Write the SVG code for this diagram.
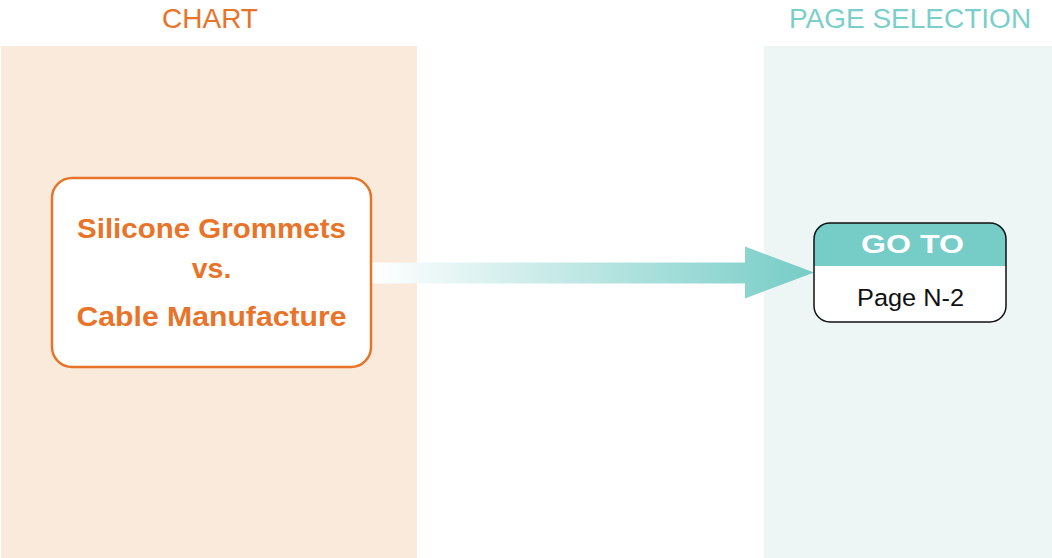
<svg xmlns="http://www.w3.org/2000/svg" width="1052" height="558" viewBox="0 0 1052 558">
<style>
.title{font-family:"Liberation Sans",Arial,sans-serif;font-size:28px;text-anchor:middle}
.node-text{font-family:"Liberation Sans",Arial,sans-serif;font-weight:bold;font-size:28.5px;fill:#E8742A;text-anchor:middle}
</style>
<defs>
<linearGradient id="flow" gradientUnits="userSpaceOnUse" x1="372" y1="0" x2="814" y2="0">
<stop offset="0" stop-color="#FFFFFF"/>
<stop offset="1" stop-color="#76CCC6"/>
</linearGradient>
</defs>
<rect width="1052" height="558" fill="#FFFFFF"/>
<g id="lane-chart">
<rect x="1" y="46" width="416" height="512" fill="#FAEADC"/>
<text class="title" x="210" y="27.5" fill="#E8742A">CHART</text>
</g>
<g id="lane-page">
<rect x="764" y="46" width="288" height="512" fill="#EDF6F5"/>
<text class="title" x="910" y="27.5" fill="#7ACFCA">PAGE SELECTION</text>
</g>
<g id="connectors">
<path d="M372 262.5 H745 V246.5 L814 272.5 L745 298.5 V283.5 H372 Z" fill="url(#flow)"/>
</g>
<g id="node-chart">
<rect x="52" y="178" width="319" height="189" rx="20" fill="#FFFFFF" stroke="#E8742A" stroke-width="2.5"/>
<text class="node-text" x="211.5" y="238" textLength="269" lengthAdjust="spacingAndGlyphs">Silicone Grommets</text>
<text class="node-text" x="211.5" y="278">vs.</text>
<text class="node-text" x="211.5" y="326" textLength="270" lengthAdjust="spacingAndGlyphs">Cable Manufacture</text>
</g>
<g id="node-goto">
<rect x="814" y="223" width="192" height="99" rx="16" fill="#FFFFFF"/>
<path d="M814 266 V239 Q814 223 830 223 H990 Q1006 223 1006 239 V266 Z" fill="#76CCC6"/>
<rect x="814" y="223" width="192" height="99" rx="16" fill="none" stroke="#111111" stroke-width="1.5"/>
<text x="912.5" y="252.7" font-family="'Liberation Sans',Arial,sans-serif" font-weight="bold" font-size="25" fill="#FFFFFF" text-anchor="middle" textLength="103" lengthAdjust="spacingAndGlyphs">GO TO</text>
<text x="910.5" y="305.7" font-family="'Liberation Sans',Arial,sans-serif" font-size="24.5" fill="#111111" text-anchor="middle" textLength="107" lengthAdjust="spacingAndGlyphs">Page N-2</text>
</g>
</svg>
